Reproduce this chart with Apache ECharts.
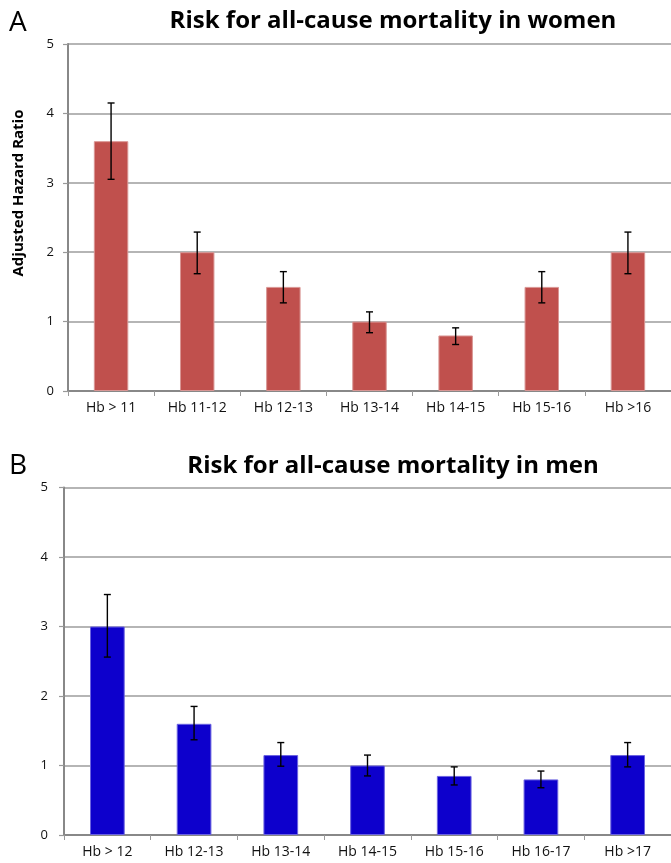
<!DOCTYPE html>
<html>
<head>
<meta charset="utf-8">
<script src="https://cdn.jsdelivr.net/npm/echarts@6/dist/echarts.min.js"></script>
<style>html,body{margin:0;padding:0;background:#fff}#c{width:671px;height:863px}</style>
</head>
<body>
<div id="c"></div>
<script>
const womenCats = ['Hb > 11', 'Hb 11-12', 'Hb 12-13', 'Hb 13-14', 'Hb 14-15', 'Hb 15-16', 'Hb >16'];
const womenHR = [3.6, 2.0, 1.5, 1.0, 0.8, 1.5, 2.0];
const womenLow = [3.05, 1.69, 1.27, 0.84, 0.67, 1.27, 1.69];
const womenHigh = [4.15, 2.29, 1.72, 1.14, 0.91, 1.72, 2.29];

const menCats = ['Hb > 12', 'Hb 12-13', 'Hb 13-14', 'Hb 14-15', 'Hb 15-16', 'Hb 16-17', 'Hb >17'];
const menHR = [3.0, 1.6, 1.15, 1.0, 0.85, 0.8, 1.15];
const menLow = [2.56, 1.37, 0.99, 0.85, 0.72, 0.68, 0.98];
const menHigh = [3.46, 1.85, 1.33, 1.15, 0.98, 0.92, 1.33];

const titleWomen = 'Risk for all-cause mortality in women';
const titleMen = 'Risk for all-cause mortality in men';
const yName = 'Adjusted Hazard Ratio';

const FONT = '"Open Sans", Lato, sans-serif';
const chart = echarts.init(document.getElementById('c'));

function errSeries(idx, low, high) {
  return {
    type: 'custom',
    xAxisIndex: idx, yAxisIndex: idx,
    data: low.map((l, i) => [i, l, high[i]]),
    z: 10,
    renderItem: function (params, api) {
      const x = api.value(0);
      const p1 = api.coord([x, api.value(1)]);
      const p2 = api.coord([x, api.value(2)]);
      const w = 3.5;
      const st = { stroke: '#000', lineWidth: 1.4 };
      return {
        type: 'group',
        children: [
          { type: 'line', shape: { x1: p1[0], y1: p1[1], x2: p2[0], y2: p2[1] }, style: st },
          { type: 'line', shape: { x1: p1[0] - w, y1: p1[1], x2: p1[0] + w, y2: p1[1] }, style: st },
          { type: 'line', shape: { x1: p2[0] - w, y1: p2[1], x2: p2[0] + w, y2: p2[1] }, style: st }
        ]
      };
    }
  };
}

function xAx(idx, cats) {
  return {
    type: 'category', gridIndex: idx, data: cats,
    axisLine: { lineStyle: { color: '#888', width: 2 } },
    axisTick: { show: true, length: 5, lineStyle: { color: '#999', width: 1 } },
    axisLabel: { color: '#111', fontSize: 14, fontFamily: FONT, margin: 10 }
  };
}
function yAx(idx, margin) {
  return {
    type: 'value', gridIndex: idx, min: 0, max: 5, interval: 1,
    axisLine: { show: true, lineStyle: { color: '#888', width: 2 } },
    axisTick: { show: true, length: 5, lineStyle: { color: '#999', width: 1.2 } },
    axisLabel: { color: '#111', fontSize: 13, fontFamily: FONT, margin: margin },
    splitLine: { show: true, lineStyle: { color: '#9c9c9c', width: 1.5 } }
  };
}

chart.setOption({
  animation: false,
  backgroundColor: '#fff',
  title: [
    { text: titleWomen, left: 388, top: 4, textAlign: 'center',
      textStyle: { fontSize: 24, fontWeight: 'bold', color: '#000', fontFamily: FONT } },
    { text: titleMen, left: 388, top: 449, textAlign: 'center',
      textStyle: { fontSize: 24, fontWeight: 'bold', color: '#000', fontFamily: FONT } }
  ],
  graphic: [
    { type: 'text', left: 9, top: 9, style: { text: 'A', fontSize: 28, fill: '#000', fontFamily: FONT } },
    { type: 'text', left: 9, top: 452, style: { text: 'B', fontSize: 28, fill: '#000', fontFamily: FONT } },
    { type: 'text', x: 19, y: 193, rotation: Math.PI / 2,
      style: { text: yName, fontSize: 15, fontWeight: 'bold', fill: '#000', fontFamily: FONT,
               align: 'center', verticalAlign: 'middle' } }
  ],
  grid: [
    { left: 68, top: 44, width: 607, height: 347 },
    { left: 64, top: 487.5, width: 607, height: 347.5 }
  ],
  xAxis: [xAx(0, womenCats), xAx(1, menCats)],
  yAxis: [yAx(0, 14), yAx(1, 16)],
  series: [
    { type: 'bar', xAxisIndex: 0, yAxisIndex: 0, data: womenHR, barWidth: '40%',
      itemStyle: { color: '#C0504D', borderColor: '#D99694', borderWidth: 1 } },
    errSeries(0, womenLow, womenHigh),
    { type: 'bar', xAxisIndex: 1, yAxisIndex: 1, data: menHR, barWidth: '40%',
      itemStyle: { color: '#0D00CC', borderColor: '#6B63E0', borderWidth: 1 } },
    errSeries(1, menLow, menHigh)
  ]
});
</script>
</body>
</html>
